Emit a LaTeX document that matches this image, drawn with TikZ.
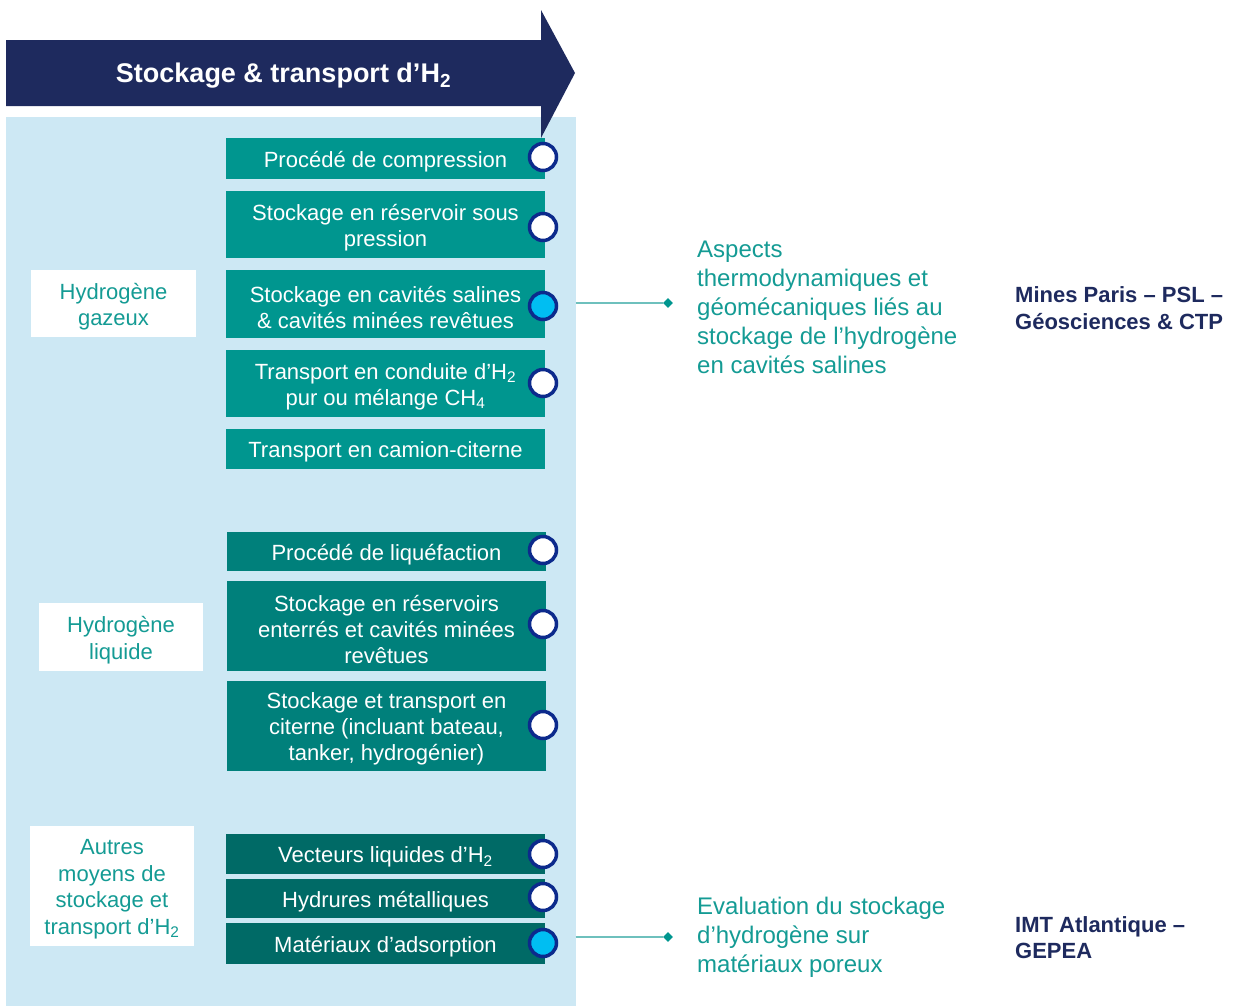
\documentclass[tikz,border=0pt]{standalone}
\usepackage{fontspec}
\setmainfont{Liberation Sans}
\usetikzlibrary{shapes.geometric}

\definecolor{navy}{RGB}{30,42,94}
\definecolor{ringnavy}{RGB}{12,42,140}
\definecolor{panelblue}{RGB}{205,232,244}
\definecolor{tealA}{RGB}{0,150,143}
\definecolor{tealB}{RGB}{0,128,123}
\definecolor{tealC}{RGB}{0,106,102}
\definecolor{tealtext}{RGB}{20,155,148}
\definecolor{linkteal}{RGB}{110,192,189}
\definecolor{hilite}{RGB}{0,190,242}

\tikzset{
  topic/.style={rectangle, inner sep=0pt, minimum width=319pt, minimum height=#1},
  topictext/.style={inner sep=0pt, align=center, text=white, font=\fontsize{22}{26}\selectfont},
  catlabel/.style={rectangle, fill=white, inner sep=0pt, minimum width=165pt, minimum height=#1},
  cattext/.style={inner sep=0pt, align=center, text=tealtext, font=\fontsize{22}{26.5}\selectfont},
  ring/.style={circle, draw=ringnavy, line width=3.5pt, fill=white, minimum size=27pt, inner sep=0pt},
  ringon/.style={ring, fill=hilite},
  linkline/.style={draw=linkteal, line width=1.2pt},
  tip/.style={diamond, fill=tealA, inner sep=0pt, minimum size=10pt},
  project/.style={anchor=west, inner sep=0pt, align=left, text=tealtext,
    font=\fontsize{24}{29}\selectfont},
  partner/.style={anchor=west, inner sep=0pt, align=left, text=navy,
    font=\fontsize{22}{26.5}\selectfont\bfseries},
}

\begin{document}
\begin{tikzpicture}[x=1pt, y=-1pt]
  \useasboundingbox (0,0) rectangle (1235,1005);

  % light blue panel behind the three families
  \node[rectangle, fill=panelblue, inner sep=0pt, minimum width=570pt, minimum height=889pt]
    (panel) at (290.5,561) {};

  % heading arrow
  \fill[navy] (6,40) -- (541,40) -- (541,10) -- (575,73) -- (541,138) -- (541,106) -- (6,106) -- cycle;
  \node[text=white, font=\fontsize{27}{32}\selectfont\bfseries] (title) at (283.5,76)
    {Stockage \& transport d’H\textsubscript{2}};

  % family labels
  \node[catlabel=67pt] (gaz) at (113.5,303.5) {};
  \node[catlabel=68pt, minimum width=164pt] (liq) at (121,637) {};
  \node[catlabel=120pt, minimum width=164pt] (autres) at (112,886) {};
  \node[cattext] (gazt) at ([yshift=-3pt]gaz.center) {Hydrogène\\gazeux};
  \node[cattext] (liqt) at ([yshift=-3pt]liq.center) {Hydrogène\\liquide};
  \node[cattext] (autrest) at ([yshift=-3pt]autres.center)
    {Autres\\moyens de\\stockage et\\transport d’H\textsubscript{2}};

  % gaseous hydrogen topics
  \node[topic=41pt, fill=tealA] (g1) at (385.5,158.5) {};
  \node[topic=67pt, fill=tealA] (g2) at (385.5,224.5) {};
  \node[topic=68pt, fill=tealA] (g3) at (385.5,304) {};
  \node[topic=67pt, fill=tealA] (g4) at (385.5,383.5) {};
  \node[topic=40pt, fill=tealA] (g5) at (385.5,449) {};
  \node[topictext] (g1t) at ([yshift=-3pt]g1.center) {Procédé de compression};
  \node[topictext] (g2t) at ([yshift=-3pt]g2.center) {Stockage en réservoir sous\\pression};
  \node[topictext] (g3t) at ([yshift=-3pt]g3.center) {Stockage en cavités salines\\\& cavités minées revêtues};
  \node[topictext] (g4t) at ([yshift=-3pt]g4.center) {Transport en conduite d’H\textsubscript{2}\\pur ou mélange CH\textsubscript{4}};
  \node[topictext] (g5t) at ([yshift=-3pt]g5.center) {Transport en camion-citerne};

  % liquid hydrogen topics
  \node[topic=39pt, fill=tealB] (l1) at (386.5,551.5) {};
  \node[topic=90pt, fill=tealB] (l2) at (386.5,626) {};
  \node[topic=90pt, fill=tealB] (l3) at (386.5,726) {};
  \node[topictext] (l1t) at ([yshift=-3pt]l1.center) {Procédé de liquéfaction};
  \node[topictext] (l2t) at ([yshift=-3pt]l2.center) {Stockage en réservoirs\\enterrés et cavités minées\\revêtues};
  \node[topictext] (l3t) at ([yshift=-3pt]l3.center) {Stockage et transport en\\citerne (incluant bateau,\\tanker, hydrogénier)};

  % other carriers
  \node[topic=40pt, fill=tealC] (o1) at (385.5,854) {};
  \node[topic=39pt, fill=tealC] (o2) at (385.5,898.5) {};
  \node[topic=41pt, fill=tealC] (o3) at (385.5,943.5) {};
  \node[topictext] (o1t) at ([yshift=-3pt]o1.center) {Vecteurs liquides d’H\textsubscript{2}};
  \node[topictext] (o2t) at ([yshift=-3pt]o2.center) {Hydrures métalliques};
  \node[topictext] (o3t) at ([yshift=-3pt]o3.center) {Matériaux d’adsorption};

  % status rings
  \node[ring]   (r1) at (543,157) {};
  \node[ring]   (r2) at (543,227) {};
  \node[ringon] (r3) at (543,306) {};
  \node[ring]   (r4) at (543,383) {};
  \node[ring]   (r5) at (543,550) {};
  \node[ring]   (r6) at (543,624) {};
  \node[ring]   (r7) at (543,725) {};
  \node[ring]   (r8) at (543,854) {};
  \node[ring]   (r9) at (543,897) {};
  \node[ringon] (r10) at (543,943) {};

  % projects and partners
  \node[tip] (d1) at (668,303) {};
  \node[tip] (d2) at (668,937) {};
  \draw[linkline] (panel.east |- d1) -- (d1);
  \draw[linkline] (panel.east |- d2) -- (d2);

  \node[project] (p1) at (697,307)
    {Aspects\\thermodynamiques et\\géomécaniques liés au\\stockage de l’hydrogène\\en cavités salines};
  \node[project] (p2) at (697,937)
    {Evaluation du stockage\\d’hydrogène sur\\matériaux poreux};

  \node[partner] (m1) at (1015,308) {Mines Paris – PSL –\\Géosciences \& CTP};
  \node[partner] (m2) at (1015,937.5) {IMT Atlantique –\\GEPEA};
\end{tikzpicture}
\end{document}
